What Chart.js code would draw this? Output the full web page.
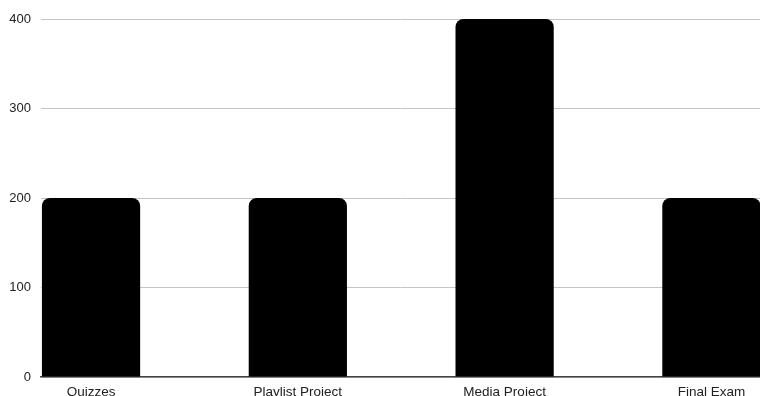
<!DOCTYPE html>
<html>
<head>
<meta charset="utf-8">
<script src="https://cdn.jsdelivr.net/npm/chart.js@4"></script>
<style>
  html, body { margin: 0; padding: 0; background: #fff; }
  #wrap { width: 760px; height: 396px; position: relative; }
</style>
</head>
<body>
<div id="wrap"><canvas id="chart"></canvas></div>
<script>
// chart data
const categories = ['Quizzes', 'Playlist Project', 'Media Project', 'Final Exam'];
const points = [200, 200, 400, 200];
const yTicks = [0, 100, 200, 300, 400];

const ctx = document.getElementById('chart');
new Chart(ctx, {
    type: 'bar',
    data: {
        datasets: [{
            data: points.map((v, i) => ({ x: i, y: v })),
            backgroundColor: '#000000',
            borderWidth: 0,
            borderRadius: 8,
            barPercentage: 0.475,
            categoryPercentage: 1
        }]
    },
    options: {
        responsive: true,
        maintainAspectRatio: false,
        animation: false,
        layout: { padding: { top: 19, right: 0, bottom: 0, left: 0 } },
        plugins: {
            legend: { display: false },
            tooltip: { enabled: false }
        },
        scales: {
            x: {
                type: 'linear',
                offset: false,
                // bars touch both ends of the plot in the original
                min: -0.242,
                max: 3.235,
                grid: { display: false, drawTicks: false },
                border: { display: true, color: '#444', width: 1.5 },
                ticks: {
                    stepSize: 1,
                    includeBounds: false,
                    autoSkip: false,
                    maxRotation: 0,
                    padding: 7,
                    color: '#222',
                    font: { family: '"Liberation Sans", Arial, sans-serif', size: 13.5 },
                    callback: (v) => categories[v] ?? ''
                },
                afterFit: (s) => { s.height = 19; }
            },
            y: {
                min: yTicks[0],
                max: yTicks[yTicks.length - 1],
                afterBuildTicks: (s) => { s.ticks = yTicks.map(v => ({ value: v })); },
                grid: { color: '#c4c4c4', lineWidth: 1, drawTicks: false },
                border: { display: false },
                ticks: {
                    padding: 10,
                    color: '#222',
                    font: { family: '"Liberation Sans", Arial, sans-serif', size: 13 }
                },
                afterFit: (s) => { s.width = 41; }
            }
        }
    }
});
</script>
</body>
</html>
